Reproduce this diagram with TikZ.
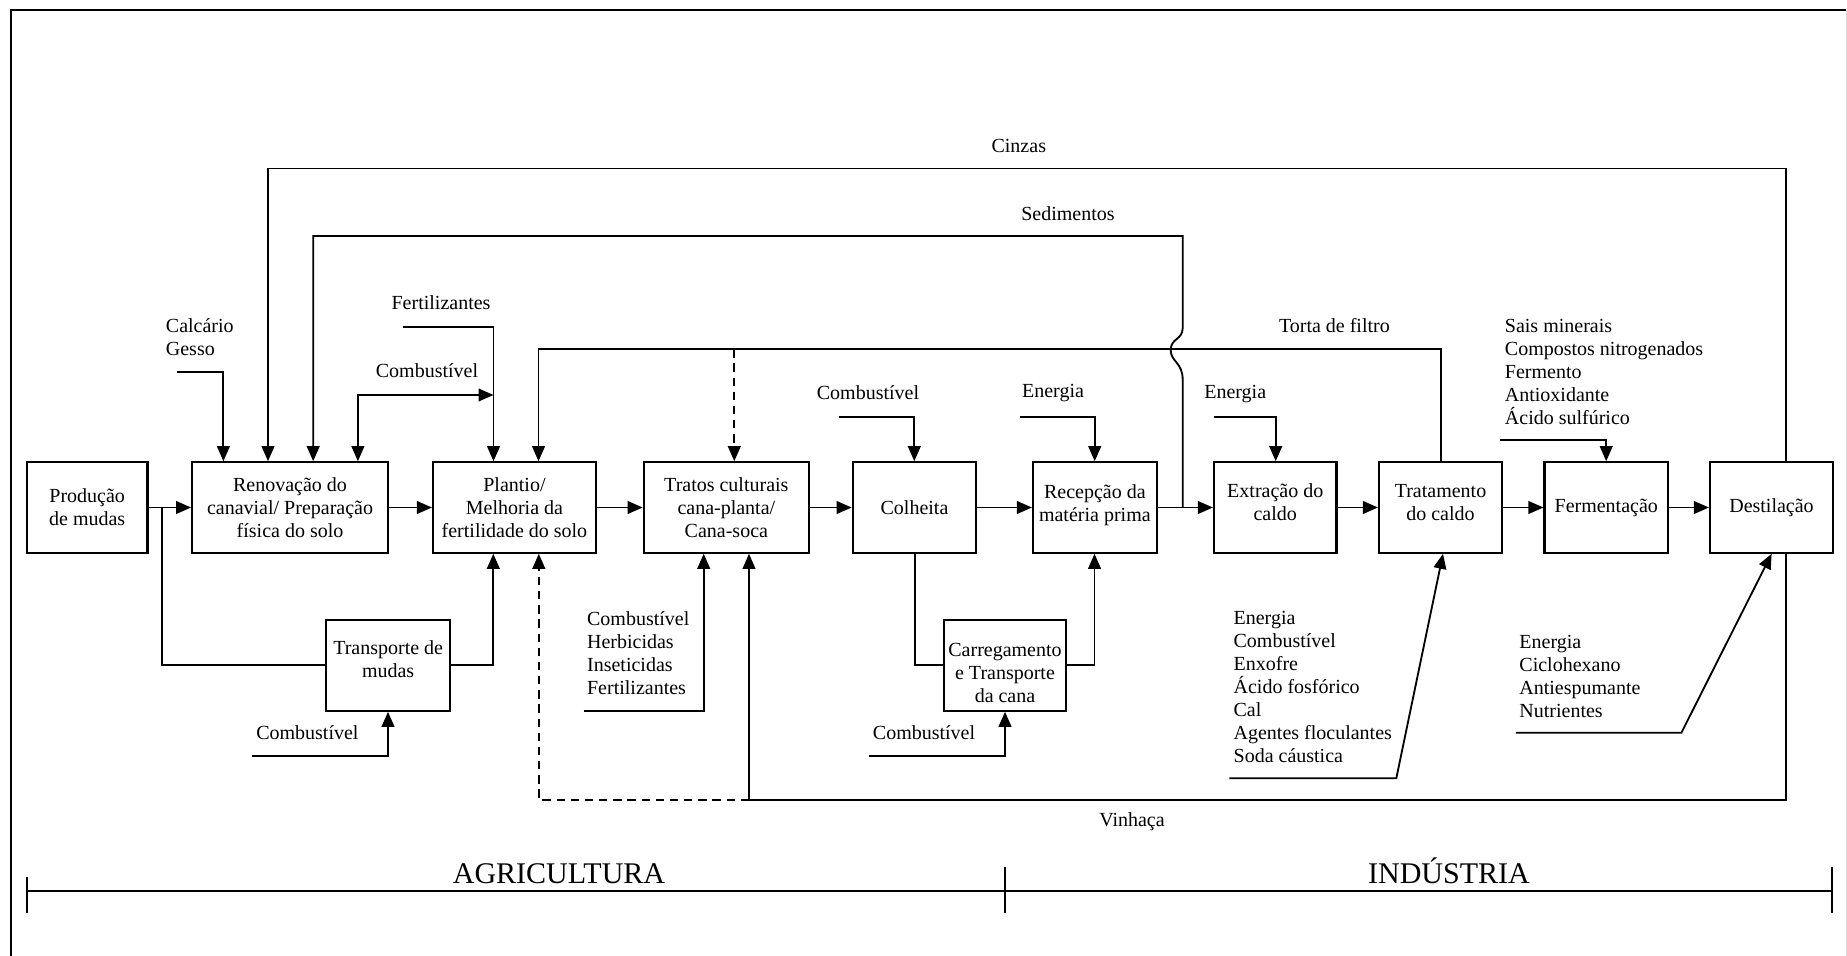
\documentclass[tikz,border=0pt]{standalone}
\usepackage{fontspec}
\setmainfont{Liberation Serif}
\usetikzlibrary{arrows.meta}

% stacked box text, raised by #1 relative to the box centre line
\newcommand\bxt[2]{\raisebox{#1}[0pt][0pt]{\begin{tabular}{@{}c@{}}#2\end{tabular}}}

\begin{document}
\begin{tikzpicture}[x=0.6pt,y=-0.6pt,
  line width=1.1pt,
  every node/.style={font=\fontsize{12}{13.8}\selectfont, inner sep=0pt},
  box/.style 2 args={draw, line width=1.3pt, align=center,
    minimum width=#1*0.6pt, minimum height=#2*0.6pt},
  arr/.style={-{Triangle[length=9pt,width=7.6pt]}},
  arrboth/.style={{Triangle[length=9pt,width=7.6pt]}-{Triangle[length=9pt,width=7.6pt]}},
  lbl/.style={align=left, anchor=west},
  dashline/.style={dash pattern=on 5pt off 3.5pt},
  sector/.style={font=\fontsize{18}{21}\selectfont, anchor=base},
]
\useasboundingbox (0,0) rectangle (1847,956);

% page frame
\draw (10.7,960) -- (10.7,10) -- (1846,10);
\draw[line width=0.5pt, black!15] (1846,10) -- (1846,960);

% ---- process boxes (main line) ----
\node[box={120.6}{90.4}] (prod)   at (87.2,507.5)    {Produção\\de mudas};
\node[box={195.7}{90.4}] (renov)  at (290.05,507.5)  {Renovação do\\canavial/ Preparação\\física do solo};
\node[box={162.9}{90.4}] (plant)  at (514.45,507.5)  {Plantio/\\Melhoria da\\fertilidade do solo};
\node[box={165.3}{90.4}] (tratos) at (726.35,507.5)  {Tratos culturais\\cana-planta/\\Cana-soca};
\node[box={123.6}{90.4}] (colh)   at (914.5,507.5)   {Colheita};
\node[box={123.7}{90.4}] (recep)  at (1094.85,507.5) {\bxt{-2pt}{Recepção da\\matéria prima}};
\node[box={122.5}{90.4}] (extr)   at (1275.25,507.5) {\bxt{-1.3pt}{Extração do\\caldo}};
\node[box={123}{90.4}]   (trat)   at (1440.5,507.5)  {\bxt{-1.3pt}{Tratamento\\do caldo}};
\node[box={123.5}{90.4}] (ferm)   at (1606.25,507.5) {Fermentação};
\node[box={123}{90.4}]   (dest)   at (1771.5,507.5)  {Destilação};

% ---- transport boxes ----
\node[box={123.7}{90.7}] (transp) at (388.15,665.35) {\bxt{-0.6pt}{Transporte de\\mudas}};
\node[box={122.8}{90.7}] (carreg) at (1005,665.35)   {\bxt{-8.8pt}{Carregamento\\e Transporte\\da cana}};

% ---- main flow ----
\draw[arr] (prod)   -- (renov);
\draw[arr] (renov)  -- (plant);
\draw[arr] (plant)  -- (tratos);
\draw[arr] (tratos) -- (colh);
\draw[arr] (colh)   -- (recep);
\draw[arr] (recep)  -- (extr);
\draw[arr] (extr)   -- (trat);
\draw[arr] (trat)   -- (ferm);
\draw[arr] (ferm)   -- (dest);

% ---- inputs from above ----
\coordinate (calIn) at (176.7,371.7);
\coordinate (calC)  at (223.4,371.7);
\draw[arr] (calIn) -- (calC) -- (renov.north -| calC);
\node[lbl] (lcal) at (165,337) {Calcário\\Gesso};

\coordinate (fertIn) at (402.5,326.7);
\coordinate (fertC)  at (493.5,326.7);
\draw[arr] (fertIn) -- (fertC) -- (plant.north -| fertC);
\node[lbl] (lfert) at (390.7,302.7) {Fertilizantes};

\coordinate (combE) at (493.5,395);
\coordinate (combC) at (357.9,395);
\draw[arrboth] (combE) -- (combC) -- (renov.north -| combC);
\node (lcomb1) at (427,370.7) {Combustível};

\coordinate (colIn) at (838.8,416.7);
\coordinate (colC)  at (914.3,416.7);
\draw[arr] (colIn) -- (colC) -- (colh.north -| colC);
\node (lcomb2) at (868,393) {Combustível};

\coordinate (recIn) at (1019.6,416.7);
\coordinate (recC)  at (1094.7,416.7);
\draw[arr] (recIn) -- (recC) -- (recep.north -| recC);
\node (lene1) at (1053,393.5) {Energia};

\coordinate (extIn) at (1214,416.7);
\coordinate (extC)  at (1275.7,416.7);
\draw[arr] (extIn) -- (extC) -- (extr.north -| extC);
\node[lbl] (lene2) at (1203.4,394) {Energia};

\coordinate (ferIn) at (1500,440);
\coordinate (ferC)  at (1606.2,440);
\draw[arr] (ferIn) -- (ferC) -- (ferm.north -| ferC);
\node[lbl] (lsais) at (1504,372) {Sais minerais\\Compostos nitrogenados\\Fermento\\Antioxidante\\Ácido sulfúrico};

% ---- recycle loops ----
\coordinate (cinR) at (1786,168.5);
\coordinate (cinL) at (268,168.5);
\draw[arr] (dest.north -| cinR) -- (cinR) -- (cinL) -- (renov.north -| cinL);
\node (lcin) at (1018.8,146) {Cinzas};

\coordinate (sedB) at (1182.7,380);
\coordinate (sedT) at (1182.7,328);
\coordinate (sedR) at (1182.7,236);
\coordinate (sedL) at (313.2,236);
\draw[arr] (recep.east -| sedR) -- (sedB)
  .. controls (1182.7,362) and (1170.7,362) .. (1170.7,350)
  .. controls (1170.7,338) and (1182.7,340) .. (sedT)
  -- (sedR) -- (sedL) -- (renov.north -| sedL);
\node (lsed) at (1068,214) {Sedimentos};

\coordinate (torR) at (1440.7,349.3);
\coordinate (torL) at (538.5,349.3);
\coordinate (torD) at (734.3,349.3);
\draw[arr] (trat.north -| torR) -- (torR) -- (torL) -- (plant.north -| torL);
\draw[arr, dashline] (torD) -- (tratos.north -| torD);
\node (ltor) at (1334.4,325.7) {Torta de filtro};

\coordinate (vinR) at (1786,800);
\coordinate (vinL) at (749,800);
\draw[arr] (dest.south -| vinR) -- (vinR) -- (vinL) -- (tratos.south -| vinL);
\coordinate (dashC) at (538.8,800);
\draw[arr, dashline] (vinL) -- (dashC) -- (plant.south -| dashC);
\node (lvin) at (1132,821.7) {Vinhaça};

% ---- seedling transport ----
\coordinate (brA) at (162,665.35);
\draw (prod.east -| brA) -- (brA) -- (transp.west);
\coordinate (trR) at (493.3,665.35);
\draw[arr] (transp.east) -- (trR) -- (plant.south -| trR);
\coordinate (tfIn) at (252.2,756);
\coordinate (tfC)  at (388,756);
\draw[arr] (tfIn) -- (tfC) -- (transp.south -| tfC);
\node[lbl] (lcomb3) at (255.4,732.3) {Combustível};

% ---- crop treatment inputs ----
\coordinate (ctIn) at (583.5,710.7);
\coordinate (ctC)  at (703.7,710.7);
\draw[arr] (ctIn) -- (ctC) -- (tratos.south -| ctC);
\node[lbl] (ltratos) at (586.2,653) {Combustível\\Herbicidas\\Inseticidas\\Fertilizantes};

% ---- cane loading and transport ----
\coordinate (chC) at (914.9,665.35);
\draw (colh.south -| chC) -- (chC) -- (carreg.west);
\coordinate (crR) at (1094.5,665.35);
\draw[arr] (carreg.east) -- (crR) -- (recep.south -| crR);
\coordinate (cfIn) at (868.8,755.7);
\coordinate (cfC)  at (1005,755.7);
\draw[arr] (cfIn) -- (cfC) -- (carreg.south -| cfC);
\node[lbl] (lcomb4) at (872,732.3) {Combustível};

% ---- juice treatment and distillation inputs ----
\coordinate (jtIn) at (1229.4,778.3);
\coordinate (jtC)  at (1396.3,778.3);
\coordinate (jtX)  at (1443,778.3);
\draw[arr] (jtIn) -- (jtC) -- (trat.south -| jtX);
\node[lbl] (ltrat) at (1232.7,687.4) {Energia\\Combustível\\Enxofre\\Ácido fosfórico\\Cal\\Agentes floculantes\\Soda cáustica};

\coordinate (dsIn) at (1515.8,732.7);
\coordinate (dsC)  at (1681.4,732.7);
\coordinate (dsX)  at (1771.6,732.7);
\draw[arr] (dsIn) -- (dsC) -- (dest.south -| dsX);
\node[lbl] (ldest) at (1518.5,676) {Energia\\Ciclohexano\\Antiespumante\\Nutrientes};

% ---- sector axis ----
\coordinate (axL) at (26.8,891);
\coordinate (axM) at (1005,891);
\coordinate (axR) at (1831.8,891);
\draw (axL) -- (axR);
\draw (26.8,877) -- (26.8,913);
\draw (1005,867) -- (1005,913);
\draw (1831.8,867) -- (1831.8,913);
\node[sector] (agri) at (559,883) {AGRICULTURA};
\node[sector] (ind)  at (1449,883) {INDÚSTRIA};
\end{tikzpicture}
\end{document}
